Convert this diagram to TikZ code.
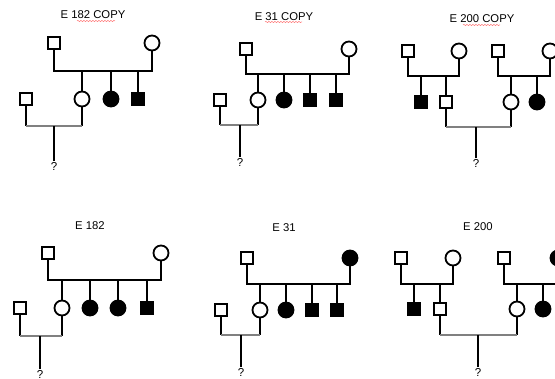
\documentclass[tikz,border=0pt]{standalone}
\usepackage{fontspec}
\setmainfont{Liberation Sans}
\usetikzlibrary{decorations.pathmorphing}

\tikzset{
  person/.style={draw=black, line width=1.8pt, inner sep=0pt},
  malebox/.style={person, rectangle, minimum size=12.5pt, fill=white},
  femalebox/.style={person, circle, minimum size=15pt, fill=white},
  maleaff/.style={malebox, fill=black},
  femaleaff/.style={femalebox, fill=black},
  kin/.style={line width=2.1pt, black},
  tie/.style={line width=2.1pt, gray},
  famtitle/.style={font=\fontsize{11.3}{13}\selectfont, inner sep=1pt},
  query/.style={font=\fontsize{11.5}{13}\selectfont, inner sep=0.5pt},
  spell/.style={red!55, line width=0.5pt, decorate,
    decoration={snake, amplitude=0.6pt, segment length=3pt}}
}

\begin{document}
\begin{tikzpicture}[x=1pt, y=-1pt]
\useasboundingbox (0,0) rectangle (555,379);
\clip (0,0) rectangle (555,379);

% ---------------- E 182 COPY ----------------
\node[famtitle] (t1) at (93,15) {E 182 COPY};
\coordinate (s1a) at (77,21); \coordinate (s1b) at (115,21);
\draw[spell] (s1a) -- (s1b);
\node[malebox] (a1f) at (54,43) {};
\node[femalebox] (a1m) at (152,43) {};
\coordinate (a1bar) at (0,71);
\node[femalebox] (a1c1) at (82,99) {};
\node[femaleaff] (a1c2) at (111,99) {};
\node[maleaff] (a1c3) at (138,99) {};
\node[malebox] (a1s) at (26,99) {};
\coordinate (a1low) at (54,126);
\node[query] (a1q) at (54,166) {?};
\draw[kin] (a1f.south) -- (a1f.south |- a1bar) -| (a1m.south);
\foreach \c in {a1c1,a1c2,a1c3} \draw[kin] (\c.north) -- (\c.north |- a1bar);
\draw[kin] (a1s.south) -- (a1s.south |- a1low);
\draw[kin] (a1c1.south) -- (a1c1.south |- a1low);
\draw[tie] (a1s.south |- a1low) -- (a1c1.south |- a1low);
\draw[kin] (a1q.north) -- (a1low);

% ---------------- E 31 COPY ----------------
\node[famtitle] (t2) at (284,17) {E 31 COPY};
\coordinate (s2a) at (265,22); \coordinate (s2b) at (302,22);
\draw[spell] (s2a) -- (s2b);
\node[malebox] (b1f) at (246,49) {};
\node[femalebox] (b1m) at (349,49) {};
\coordinate (b1bar) at (0,74);
\node[femalebox] (b1c1) at (258,100) {};
\node[femaleaff] (b1c2) at (284,100) {};
\node[maleaff] (b1c3) at (310,100) {};
\node[maleaff] (b1c4) at (336,100) {};
\node[malebox] (b1s) at (220,100) {};
\coordinate (b1low) at (240,125);
\node[query] (b1q) at (240,162) {?};
\draw[kin] (b1f.south) -- (b1f.south |- b1bar) -| (b1m.south);
\foreach \c in {b1c1,b1c2,b1c3,b1c4} \draw[kin] (\c.north) -- (\c.north |- b1bar);
\draw[kin] (b1s.south) -- (b1s.south |- b1low);
\draw[kin] (b1c1.south) -- (b1c1.south |- b1low);
\draw[tie] (b1s.south |- b1low) -- (b1c1.south |- b1low);
\draw[kin] (b1q.north) -- (b1low);

% ---------------- E 200 COPY ----------------
\node[famtitle] (t3) at (482,19) {E 200 COPY};
\coordinate (s3a) at (463,25); \coordinate (s3b) at (500,25);
\draw[spell] (s3a) -- (s3b);
\coordinate (c1bar) at (0,76);
% paternal side
\node[malebox] (c1f) at (408,51) {};
\node[femalebox] (c1m) at (459,51) {};
\node[maleaff] (c1c1) at (421,102) {};
\node[malebox] (c1c2) at (446,102) {};
% maternal side
\node[malebox] (c2f) at (498,51) {};
\node[femalebox] (c2m) at (550,51) {};
\node[femalebox] (c2c1) at (511,102) {};
\node[femaleaff] (c2c2) at (537,102) {};
\coordinate (c1low) at (476,127);
\node[query] (c1q) at (476,163) {?};
\draw[kin] (c1f.south) -- (c1f.south |- c1bar) -| (c1m.south);
\draw[kin] (c2f.south) -- (c2f.south |- c1bar) -| (c2m.south);
\foreach \c in {c1c1,c1c2,c2c1,c2c2} \draw[kin] (\c.north) -- (\c.north |- c1bar);
\draw[kin] (c1c2.south) -- (c1c2.south |- c1low);
\draw[kin] (c2c1.south) -- (c2c1.south |- c1low);
\draw[tie] (c1c2.south |- c1low) -- (c2c1.south |- c1low);
\draw[kin] (c1q.north) -- (c1low);

% ---------------- E 182 ----------------
\node[famtitle] (t4) at (90,226) {E 182};
\node[malebox] (d1f) at (48,253) {};
\node[femalebox] (d1m) at (161,253) {};
\coordinate (d1bar) at (0,280);
\node[femalebox] (d1c1) at (62,308) {};
\node[femaleaff] (d1c2) at (90,308) {};
\node[femaleaff] (d1c3) at (118,308) {};
\node[maleaff] (d1c4) at (147,308) {};
\node[malebox] (d1s) at (20,308) {};
\coordinate (d1low) at (40,336);
\node[query] (d1q) at (40,374) {?};
\draw[kin] (d1f.south) -- (d1f.south |- d1bar) -| (d1m.south);
\foreach \c in {d1c1,d1c2,d1c3,d1c4} \draw[kin] (\c.north) -- (\c.north |- d1bar);
\draw[kin] (d1s.south) -- (d1s.south |- d1low);
\draw[kin] (d1c1.south) -- (d1c1.south |- d1low);
\draw[tie] (d1s.south |- d1low) -- (d1c1.south |- d1low);
\draw[kin] (d1q.north) -- (d1low);

% ---------------- E 31 ----------------
\node[famtitle] (t5) at (284,228) {E 31};
\node[malebox] (e1f) at (247,258) {};
\node[femaleaff] (e1m) at (350,258) {};
\coordinate (e1bar) at (0,284);
\node[femalebox] (e1c1) at (260,310) {};
\node[femaleaff] (e1c2) at (286,310) {};
\node[maleaff] (e1c3) at (312,310) {};
\node[maleaff] (e1c4) at (337,310) {};
\node[malebox] (e1s) at (221,310) {};
\coordinate (e1low) at (241,335);
\node[query] (e1q) at (241,372) {?};
\draw[kin] (e1f.south) -- (e1f.south |- e1bar) -| (e1m.south);
\foreach \c in {e1c1,e1c2,e1c3,e1c4} \draw[kin] (\c.north) -- (\c.north |- e1bar);
\draw[kin] (e1s.south) -- (e1s.south |- e1low);
\draw[kin] (e1c1.south) -- (e1c1.south |- e1low);
\draw[tie] (e1s.south |- e1low) -- (e1c1.south |- e1low);
\draw[kin] (e1q.north) -- (e1low);

% ---------------- E 200 ----------------
\node[famtitle] (t6) at (478,227) {E 200};
\coordinate (f1bar) at (0,284);
% paternal side
\node[malebox] (f1f) at (401,258) {};
\node[femalebox] (f1m) at (453,258) {};
\node[maleaff] (f1c1) at (414,309) {};
\node[malebox] (f1c2) at (440,309) {};
% maternal side
\node[malebox] (f2f) at (504,258) {};
\node[femaleaff] (f2m) at (558,258) {};
\node[femalebox] (f2c1) at (517,309) {};
\node[femaleaff] (f2c2) at (543,309) {};
\coordinate (f1low) at (478,335);
\node[query] (f1q) at (478,372) {?};
\draw[kin] (f1f.south) -- (f1f.south |- f1bar) -| (f1m.south);
\draw[kin] (f2f.south) -- (f2f.south |- f1bar) -| (f2m.south);
\foreach \c in {f1c1,f1c2,f2c1,f2c2} \draw[kin] (\c.north) -- (\c.north |- f1bar);
\draw[kin] (f1c2.south) -- (f1c2.south |- f1low);
\draw[kin] (f2c1.south) -- (f2c1.south |- f1low);
\draw[tie] (f1c2.south |- f1low) -- (f2c1.south |- f1low);
\draw[kin] (f1q.north) -- (f1low);
\end{tikzpicture}
\end{document}
